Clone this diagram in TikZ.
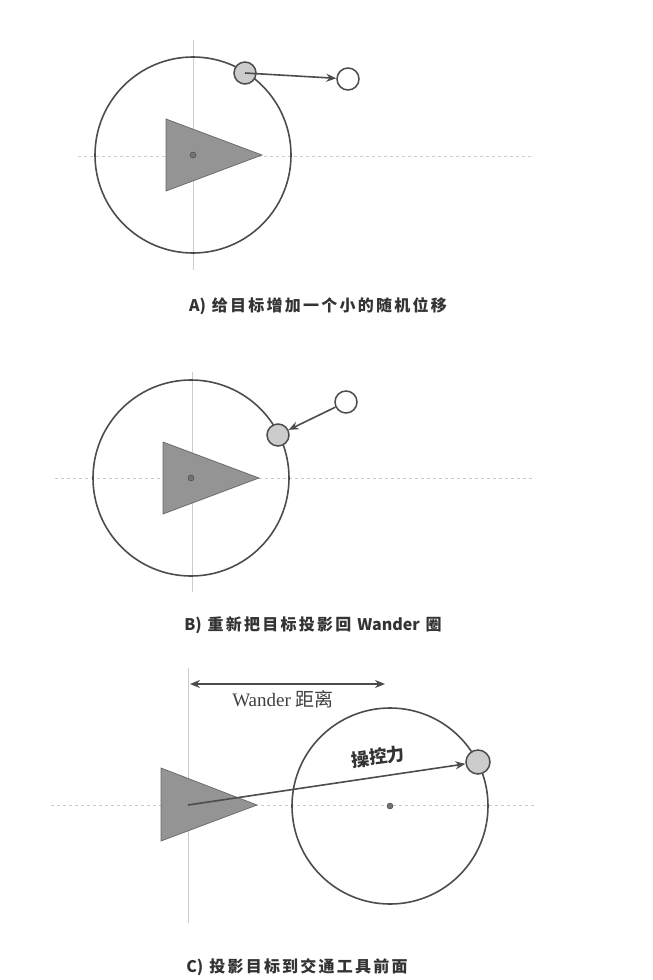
\documentclass[tikz,border=0pt]{standalone}
\usepackage{fontspec}
\setmainfont{Liberation Serif}
\newfontfamily\cjk{Noto Sans CJK SC}
\newfontfamily\capcjk[LetterSpace=14]{Noto Sans CJK SC}
\usetikzlibrary{arrows.meta}

\begin{document}
\begin{tikzpicture}[
  x=1pt, y=-1pt,
  wander/.style={circle, draw=black!70, line width=1.6pt, minimum size=196pt, inner sep=0pt},
  target/.style={circle, draw=black!70, fill=black!20, line width=1.5pt, minimum size=22pt, inner sep=0pt},
  jitter/.style={circle, draw=black!70, fill=white, line width=1.5pt, minimum size=22pt, inner sep=0pt},
  hub/.style={circle, draw=black!75, fill=black!55, minimum size=6pt, inner sep=0pt},
  vehicle/.style={fill=black!42, draw=black!60, line width=0.7pt},
  axis/.style={black!20, line width=0.7pt},
  tip/.style={Stealth[length=10pt,width=8pt]},
  force/.style={-{Stealth[length=10pt,width=8pt]}, black!70, line width=1.6pt},
  caption/.style={font=\capcjk\bfseries\fontsize{16}{19}\selectfont, text=black!80}
]
  \useasboundingbox (0,0) rectangle (653,980);

  % A
  \draw[axis] (193,40) -- (193,270);
  \draw[axis, dashed] (78,156) -- (532,156);
  \node (wa) [wander] at (193,155) {};
  \draw[vehicle] (166,119) -- (262,155) -- (166,191) -- cycle;
  \node (ca) [hub] at (193,155) {};
  \node (ta) [target] at (245,73) {};
  \node (ja) [jitter] at (348,79) {};
  \draw[force] (ta.center) -- (ja);
  \node (capa) [caption] at (318,306) {{\cjk A)} 给目标增加一个小的随机位移};

  % B
  \draw[axis] (192,372) -- (192,592);
  \draw[axis, dashed] (55,478) -- (535,478);
  \node (wb) [wander] at (191,478) {};
  \draw[vehicle] (163,442) -- (259,478) -- (163,514) -- cycle;
  \node (cb) [hub] at (191,478) {};
  \node (tb) [target] at (278,435) {};
  \node (jb) [jitter] at (346,402) {};
  \draw[force] (jb) -- (tb);
  \node (capb) [caption] at (313,625) {{\cjk B)} 重新把目标投影回 {\cjk Wander} 圈};

  % C
  \draw[axis] (188,668) -- (188,923);
  \draw[axis, dashed] (51,805) -- (534,805);
  \node (wc) [wander] at (390,806) {};
  \draw[vehicle] (161,768) -- (257,805) -- (161,841) -- cycle;
  \node (cc) [hub] at (390,806) {};
  \node (tc) [target, minimum size=24pt] at (478,762) {};
  \coordinate (vc) at (188,805);
  \draw[force] (vc) -- (tc);
  \node (fc) [font=\cjk\bfseries\fontsize{18}{20}\selectfont, text=black!80, rotate=7.7, inner sep=1pt] at (378,757) {操控力};

  \coordinate (d1) at (190,684);
  \coordinate (d2) at (385,684);
  \draw[{Stealth[length=10pt,width=8pt]}-{Stealth[length=10pt,width=8pt]}, black!70, line width=1.6pt] (d1) -- (d2);
  \node (dl) [font=\fontsize{19}{22}\selectfont, text=black!75] at (283,699) {Wander {\cjk 距离}};
  \node (capc) [caption] at (297,967) {{\cjk C)} 投影目标到交通工具前面};

\end{tikzpicture}
\end{document}
